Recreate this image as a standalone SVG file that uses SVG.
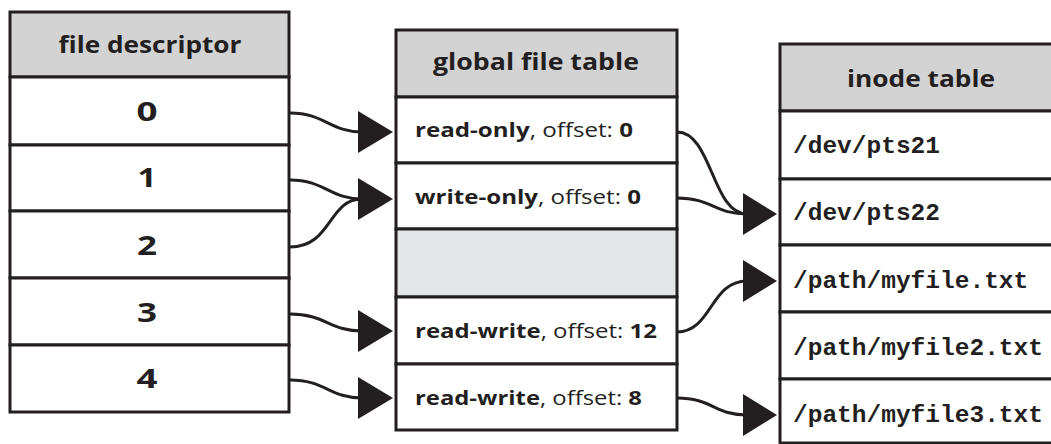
<svg xmlns="http://www.w3.org/2000/svg" width="1051" height="444" viewBox="0 0 1051 444">
<style>
  .cell{fill:#ffffff;stroke:#231f20;stroke-width:3}
  .head{fill:#d3d3d4;stroke:#231f20;stroke-width:3}
  .empty{fill:#e4e5e6;stroke:#231f20;stroke-width:3}
  .ht{font-family:"Open Sans","Noto Sans",sans-serif;font-weight:700;font-size:23px;fill:#231f20;text-anchor:middle}
  .num{font-family:"Open Sans","Noto Sans",sans-serif;font-weight:700;font-size:26px;fill:#231f20;text-anchor:middle}
  .rt{font-family:"Open Sans","Noto Sans",sans-serif;font-weight:400;font-size:20px;fill:#231f20}
  .b{font-weight:700}
  .mono{font-family:"Liberation Mono","Courier New",monospace;font-weight:700;font-size:24.5px;fill:#231f20}
  .wire{fill:none;stroke:#231f20;stroke-width:3}
  .tri{fill:#231f20}
</style>
<g id="fd-table">
  <rect class="head" x="10" y="12" width="279" height="65"/>
  <text class="ht" x="150" y="53" textLength="183" lengthAdjust="spacingAndGlyphs">file descriptor</text>
  <rect class="cell" x="10" y="77" width="279" height="68"/>
  <text class="num" x="147" y="121" textLength="21" lengthAdjust="spacingAndGlyphs">0</text>
  <rect class="cell" x="10" y="145" width="279" height="66"/>
  <text class="num" x="147" y="187" textLength="19" lengthAdjust="spacingAndGlyphs">1</text>
  <rect class="cell" x="10" y="211" width="279" height="67"/>
  <text class="num" x="147" y="255" textLength="20" lengthAdjust="spacingAndGlyphs">2</text>
  <rect class="cell" x="10" y="278" width="279" height="67"/>
  <text class="num" x="147" y="322" textLength="20" lengthAdjust="spacingAndGlyphs">3</text>
  <rect class="cell" x="10" y="345" width="279" height="67"/>
  <text class="num" x="147" y="388" textLength="21" lengthAdjust="spacingAndGlyphs">4</text>
</g>
<g id="global-file-table">
  <rect class="head" x="396" y="30" width="281" height="67"/>
  <text class="ht" x="536" y="70" textLength="206" lengthAdjust="spacingAndGlyphs">global file table</text>
  <rect class="cell" x="396" y="97" width="281" height="66"/>
  <text class="rt" x="415" y="137" textLength="218" lengthAdjust="spacingAndGlyphs"><tspan class="b">read-only</tspan>, offset: <tspan class="b">0</tspan></text>
  <rect class="cell" x="396" y="163" width="281" height="66"/>
  <text class="rt" x="415" y="204" textLength="226" lengthAdjust="spacingAndGlyphs"><tspan class="b">write-only</tspan>, offset: <tspan class="b">0</tspan></text>
  <rect class="empty" x="396" y="229" width="281" height="68"/>
  <rect class="cell" x="396" y="297" width="281" height="67"/>
  <text class="rt" x="415" y="338" textLength="242" lengthAdjust="spacingAndGlyphs"><tspan class="b">read-write</tspan>, offset: <tspan class="b">12</tspan></text>
  <rect class="cell" x="396" y="364" width="281" height="66"/>
  <text class="rt" x="415" y="405" textLength="227" lengthAdjust="spacingAndGlyphs"><tspan class="b">read-write</tspan>, offset: <tspan class="b">8</tspan></text>
</g>
<g id="inode-table">
  <rect class="head" x="780" y="44" width="290" height="67"/>
  <text class="ht" x="921" y="87" textLength="148" lengthAdjust="spacingAndGlyphs">inode table</text>
  <rect class="cell" x="780" y="111" width="290" height="68"/>
  <text class="mono" x="793" y="153">/dev/pts21</text>
  <rect class="cell" x="780" y="179" width="290" height="66"/>
  <text class="mono" x="793" y="220">/dev/pts22</text>
  <rect class="cell" x="780" y="245" width="290" height="67"/>
  <text class="mono" x="793" y="288">/path/myfile.txt</text>
  <rect class="cell" x="780" y="312" width="290" height="67"/>
  <text class="mono" x="793" y="355">/path/myfile2.txt</text>
  <rect class="cell" x="780" y="379" width="290" height="64"/>
  <text class="mono" x="793" y="422">/path/myfile3.txt</text>
</g>
<g id="connectors">
  <path class="wire" d="M290,113 C325,113 330,132 362,132"/>
  <polygon class="tri" points="358,111 393,132 358,153"/>
  <path class="wire" d="M290,180 C325,180 330,199 362,199"/>
  <path class="wire" d="M290,247 C332,247 328,199 362,199"/>
  <polygon class="tri" points="358,178 393,199 358,220"/>
  <path class="wire" d="M290,314 C325,314 330,331 362,331"/>
  <polygon class="tri" points="358,310 393,331 358,352"/>
  <path class="wire" d="M290,380 C325,380 330,398 362,398"/>
  <polygon class="tri" points="358,377 393,398 358,419"/>
  <path class="wire" d="M677,132 C712,132 712,214 747,214"/>
  <path class="wire" d="M677,198 C712,198 715,214 747,214"/>
  <polygon class="tri" points="743,193 777,214 743,235"/>
  <path class="wire" d="M677,332 C712,332 710,281 747,281"/>
  <polygon class="tri" points="743,260 777,281 743,302"/>
  <path class="wire" d="M677,398 C712,398 715,415 747,415"/>
  <polygon class="tri" points="743,394 777,415 743,436"/>
</g>
</svg>
